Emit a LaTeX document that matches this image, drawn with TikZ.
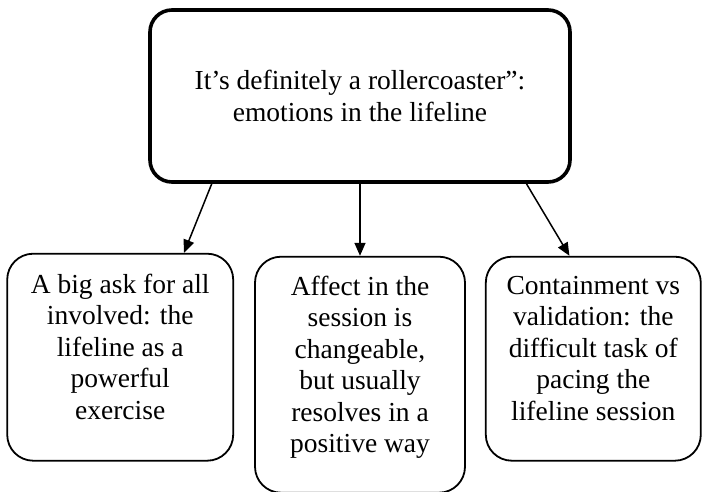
\documentclass[tikz,border=0pt]{standalone}
\usepackage{fontspec}
\setmainfont{Liberation Serif}
\usepackage{tikz}
\usetikzlibrary{arrows.meta,positioning,calc}

\begin{document}
\begin{tikzpicture}[
    font=\fontsize{27.5}{31.5}\selectfont,
    box/.style={draw, rounded corners=26pt, align=center, line width=1.8pt,
      inner sep=0pt, text depth=21pt, minimum width=#1},
    box/.default=212pt,
    topbox/.style={draw, rounded corners=22pt, align=center, line width=3.6pt,
      inner sep=0pt, minimum width=420pt, minimum height=172pt},
    arr/.style={-{Triangle[length=13pt,width=11pt]}, line width=1.5pt}
  ]
    \useasboundingbox (0,0) rectangle (702pt,-491pt);

    \node[topbox] (top) at (360pt,-96pt) {It's definitely a rollercoaster'':\\emotions in the lifeline};

    \node[box=210pt, minimum height=236pt, below=72pt of top] (affect)
      {Affect in the\\session is\\changeable,\\but usually\\resolves in a\\positive way};
    \node[box=226pt, minimum height=207pt, left=20pt of affect.north west,
      anchor=north east, yshift=3pt] (ask)
      {A big ask for all\\involved: the\\lifeline as a\\powerful\\exercise};
    \node[box=215pt, minimum height=204pt, right=19pt of affect.north east,
      anchor=north west] (pace)
      {Containment vs\\validation: the\\difficult task of\\pacing the\\lifeline session};

    \draw[arr] ($(top.south west)!.15!(top.south east)$) -- ($(ask.north west)!.78!(ask.north east)$);
    \draw[arr] (top.south -| affect.north) -- (affect.north);
    \draw[arr] ($(top.south west)!.893!(top.south east)$) -- ($(pace.north west)!.39!(pace.north east)$);
  \end{tikzpicture}
\end{document}
